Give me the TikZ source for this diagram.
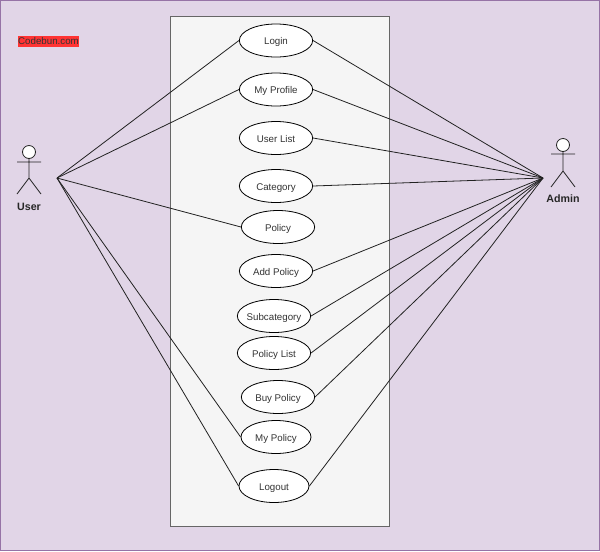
\documentclass[tikz,border=0pt]{standalone}
\usepackage{fontspec}
\setmainfont{Liberation Sans}
\usetikzlibrary{shapes.geometric}
\definecolor{pagebg}{HTML}{E1D5E7}
\definecolor{pageline}{HTML}{9673A6}
\definecolor{sysbg}{HTML}{F5F5F5}
\definecolor{sysline}{HTML}{666666}
\definecolor{inkline}{HTML}{222222}
\definecolor{brandred}{HTML}{FF3333}
\tikzset{
	usecase/.style={draw=black,fill=white,ellipse,minimum width=55pt,minimum height=24.75pt,inner xsep=-4pt,inner ysep=0pt,line width=0.6pt,text height=6pt,text depth=0pt,font=\fontsize{7.3}{8}\selectfont,text=black!80},
	actorname/.style={font=\fontsize{8}{9}\selectfont\bfseries,text=black!85},
	stick/.style={draw=inkline,line width=0.6pt},
	link/.style={draw=inkline,line width=0.6pt}
}
\begin{document}
\begin{tikzpicture}[x=0.75pt,y=-0.75pt]
		\useasboundingbox (0,0) rectangle (600,551);
		\draw[fill=pagebg,draw=pageline,line width=0.75pt] (0.5,0.5) rectangle (599.5,550.5);

		% System box
		\draw[fill=sysbg,draw=sysline,line width=0.5pt] (170,16) rectangle (389,526);

		% Watermark
		\node[fill=brandred,inner sep=0pt,minimum width=45.75pt,minimum height=8.25pt,font=\fontsize{7.3}{8}\selectfont,text=black!80] (brand) at (48.5,41.5) {Codebun.com};

		% Use cases
		\node[usecase] (login) at (276,40.5) {Login};
		\node[usecase] (profile) at (276,89.5) {My Profile};
		\node[usecase] (userlist) at (276,138) {User List};
		\node[usecase] (category) at (276,186) {Category};
		\node[usecase] (policy) at (278,227) {Policy};
		\node[usecase] (addpolicy) at (276,271) {Add Policy};
		\node[usecase] (subcategory) at (274,316) {Subcategory};
		\node[usecase] (policylist) at (274,353) {Policy List};
		\node[usecase] (buypolicy) at (278,397) {Buy Policy};
		\node[usecase,minimum width=52.5pt] (mypolicy) at (276,437) {My Policy};
		\node[usecase,minimum width=52.5pt] (logout) at (274,486) {Logout};

		% User actor
		\begin{scope}[shift={(29,152)}]
			\node[circle,draw=inkline,fill=white,line width=0.6pt,minimum size=9.75pt,inner sep=0pt] (userhead) at (0,0) {};
			\draw[stick] (userhead.south) -- (0,26) (-12,10) -- (12,10) (-12,42) -- (0,26) -- (12,42);
			\node[actorname] (username) at (0,54.5) {User};
		\end{scope}

		% Admin actor
		\begin{scope}[shift={(563,145)}]
			\node[circle,draw=inkline,fill=white,line width=0.6pt,minimum size=9.75pt,inner sep=0pt] (adminhead) at (0,0) {};
			\draw[stick] (adminhead.south) -- (0,26) (-12,9) -- (12,9) (-12,42) -- (0,26) -- (12,42);
			\node[actorname] (adminname) at (0,53.5) {Admin};
		\end{scope}

		% Connectors
		\coordinate (userhub) at (57,178);
		\coordinate (adminhub) at (543,178);
		\foreach \uc in {login,profile,policy,mypolicy,logout}
			\draw[link] (userhub) -- (\uc.west);
		\foreach \uc in {login,profile,userlist,category,addpolicy,subcategory,policylist,buypolicy,logout}
			\draw[link] (adminhub) -- (\uc.east);
	\end{tikzpicture}
\end{document}
